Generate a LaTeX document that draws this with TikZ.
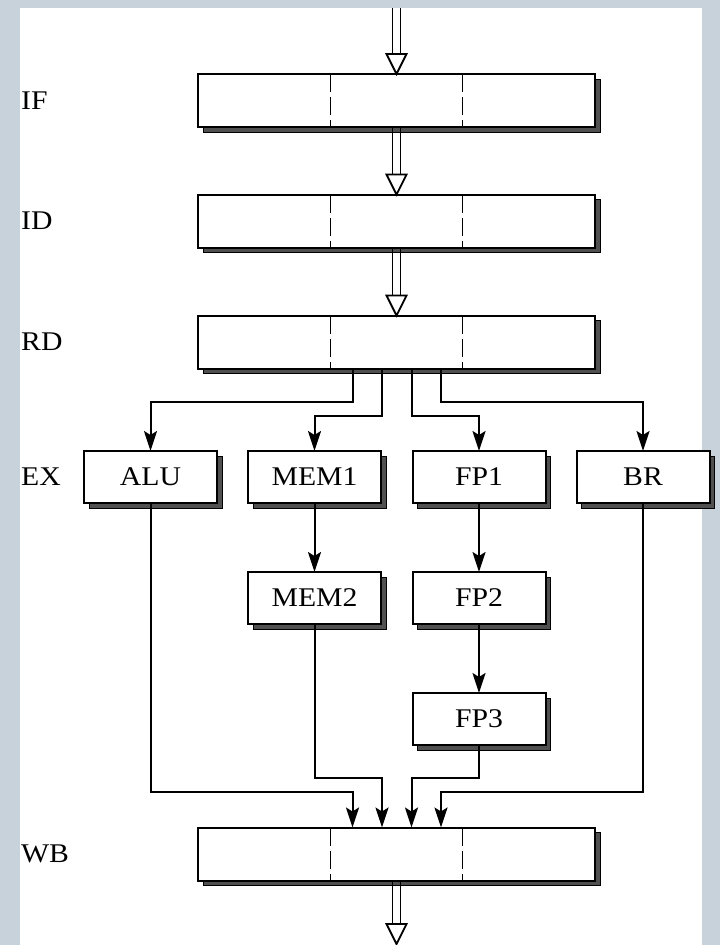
\documentclass[tikz,border=0pt]{standalone}
\usepackage{fontspec}
\setmainfont{Liberation Serif}[FakeStretch=1.1]
\usetikzlibrary{arrows.meta,calc,shadows}

\definecolor{frame}{RGB}{199,210,218}
\definecolor{shade}{RGB}{80,80,80}

% hollow pipeline arrow: double shaft with an open triangular head
\newcommand\fatarrow[2]{%
  \draw[line width=1.8pt] ($(#1)+(-4,0)$) -- ($(#2)+(-4,-20)$);
  \draw[line width=1.8pt] ($(#1)+(4,0)$) -- ($(#2)+(4,-20)$);
  \filldraw[fill=white, line width=1.8pt, line join=miter]
    ($(#2)+(-10,-20)$) -- ($(#2)+(10,-20)$) -- (#2) -- cycle;}

\begin{document}
\begin{tikzpicture}[x=1pt,y=-1pt,
  box/.style={draw=black, line width=2pt, fill=white, inner sep=0pt, outer sep=0pt,
    drop shadow={shadow xshift=5pt, shadow yshift=-5pt, fill=shade,
                 draw=black, line width=0.8pt, opacity=1}},
  stage/.style={box, minimum width=397pt, minimum height=53pt},
  unit/.style={box, minimum width=133pt, minimum height=52pt,
    font=\fontsize{27}{31}\selectfont},
  stagelabel/.style={anchor=west, inner sep=0pt, font=\fontsize{27}{31}\selectfont},
  conn/.style={draw=black, line width=2pt,
    -{Stealth[length=20pt, width=13pt, inset=4pt]}},
  divider/.style={draw=black, line width=1.3pt, dash pattern=on 18pt off 5pt},
]
% page background and frame
\fill[frame] (0,0) rectangle (720,945);
\fill[white] (20,8) rectangle (702,945);
\useasboundingbox (0,0) rectangle (720,945);

% pipeline registers
\node[stage] (IF) at (396.5,100.5) {};
\node[stage] (ID) at (396.5,221) {};
\node[stage] (RD) at (396.5,342) {};
\node[stage] (WB) at (396.5,854) {};
\foreach \s in {IF,ID,RD,WB} {
  \draw[divider] ($(\s.north west)!1/3!(\s.north east)$) -- ($(\s.south west)!1/3!(\s.south east)$);
  \draw[divider] ($(\s.north west)!2/3!(\s.north east)$) -- ($(\s.south west)!2/3!(\s.south east)$);
}

% execution units
\node[unit] (ALU)  at (150.5,477) {ALU};
\node[unit] (MEM1) at (314.5,477) {MEM1};
\node[unit] (FP1)  at (479,477)   {FP1};
\node[unit] (BR)   at (643,477)   {BR};
\node[unit] (MEM2) at (314.5,598) {MEM2};
\node[unit] (FP2)  at (479,598)   {FP2};
\node[unit] (FP3)  at (479,719)   {FP3};

% stage names
\node[stagelabel] (lIF) at (21,100.5) {IF};
\node[stagelabel] (lID) at (21,221)   {ID};
\node[stagelabel] (lRD) at (21,342)   {RD};
\node[stagelabel] (lEX) at (21,477)   {EX};
\node[stagelabel] (lWB) at (21,854)   {WB};

% instruction flow between registers
\coordinate (in)  at (396.5,8);
\coordinate (out) at (396.5,944);
\fatarrow{in}{IF.north}
\fatarrow{IF.south}{ID.north}
\fatarrow{ID.south}{RD.north}
\fatarrow{WB.south}{out}

% dispatch from RD
\coordinate (s1) at (352.5,401.5);
\coordinate (s2) at (382,416);
\coordinate (s3) at (411.5,416);
\coordinate (s4) at (441,401.5);
\draw[conn] (RD.south -| s1) -- (s1) -| (ALU.north);
\draw[conn] (RD.south -| s2) -- (s2) -| (MEM1.north);
\draw[conn] (RD.south -| s3) -- (s3) -| (FP1.north);
\draw[conn] (RD.south -| s4) -- (s4) -| (BR.north);

% multi-cycle units
\draw[conn] (MEM1.south) -- (MEM2.north);
\draw[conn] (FP1.south) -- (FP2.north);
\draw[conn] (FP2.south) -- (FP3.north);

% results into WB
\coordinate (m1) at (352.5,792);
\coordinate (m2) at (382,778);
\coordinate (m3) at (411.5,778);
\coordinate (m4) at (441,792);
\draw[conn] (ALU.south) |- (m1) -- (m1 |- WB.north);
\draw[conn] (MEM2.south) |- (m2) -- (m2 |- WB.north);
\draw[conn] (FP3.south) |- (m3) -- (m3 |- WB.north);
\draw[conn] (BR.south) |- (m4) -- (m4 |- WB.north);
\end{tikzpicture}
\end{document}
